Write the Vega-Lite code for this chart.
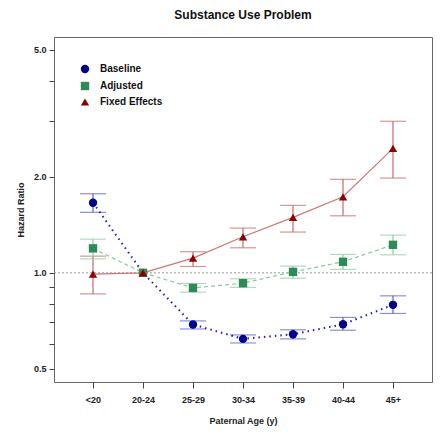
{
  "$schema": "https://vega.github.io/schema/vega-lite/v6.json",
  "width": 378,
  "height": 345,
  "autosize": {"type": "none"},
  "padding": {"left": 54, "top": 37, "right": 10, "bottom": 50},
  "background": "white",
  "title": {"text": "Substance Use Problem", "font": "Liberation Sans", "fontSize": 12, "fontWeight": "bold", "color": "#111", "anchor": "middle", "offset": 15},
  "config": {
    "view": {"stroke": "#666", "strokeWidth": 1},
    "axis": {"labelFont": "Liberation Sans", "labelFontWeight": "bold", "labelFontSize": 9, "labelColor": "#222", "titleFont": "Liberation Sans", "titleFontWeight": "bold", "titleFontSize": 9, "titleColor": "#222", "grid": false, "domain": false, "tickColor": "#444", "tickWidth": 1},
    "legend": {"labelFont": "Liberation Sans", "labelFontWeight": "bold", "labelFontSize": 10, "labelColor": "#111"}
  },
  "data": {"values": [
    {"age": "<20", "idx": 1, "series": "Baseline", "hr": 1.658, "lo": 1.547, "hi": 1.769},
    {"age": "20-24", "idx": 2, "series": "Baseline", "hr": 1.0, "lo": null, "hi": null},
    {"age": "25-29", "idx": 3, "series": "Baseline", "hr": 0.689, "lo": 0.667, "hi": 0.707},
    {"age": "30-34", "idx": 4, "series": "Baseline", "hr": 0.621, "lo": 0.603, "hi": 0.639},
    {"age": "35-39", "idx": 5, "series": "Baseline", "hr": 0.642, "lo": 0.621, "hi": 0.663},
    {"age": "40-44", "idx": 6, "series": "Baseline", "hr": 0.690, "lo": 0.661, "hi": 0.725},
    {"age": "45+", "idx": 7, "series": "Baseline", "hr": 0.794, "lo": 0.746, "hi": 0.847},
    {"age": "<20", "idx": 1, "series": "Adjusted", "hr": 1.193, "lo": 1.106, "hi": 1.275},
    {"age": "20-24", "idx": 2, "series": "Adjusted", "hr": 1.0, "lo": null, "hi": null},
    {"age": "25-29", "idx": 3, "series": "Adjusted", "hr": 0.897, "lo": 0.870, "hi": 0.926},
    {"age": "30-34", "idx": 4, "series": "Adjusted", "hr": 0.928, "lo": 0.900, "hi": 0.958},
    {"age": "35-39", "idx": 5, "series": "Adjusted", "hr": 1.007, "lo": 0.962, "hi": 1.050},
    {"age": "40-44", "idx": 6, "series": "Adjusted", "hr": 1.083, "lo": 1.025, "hi": 1.142},
    {"age": "45+", "idx": 7, "series": "Adjusted", "hr": 1.224, "lo": 1.139, "hi": 1.313},
    {"age": "<20", "idx": 1, "series": "Fixed Effects", "hr": 0.991, "lo": 0.859, "hi": 1.128},
    {"age": "20-24", "idx": 2, "series": "Fixed Effects", "hr": 1.0, "lo": null, "hi": null},
    {"age": "25-29", "idx": 3, "series": "Fixed Effects", "hr": 1.112, "lo": 1.047, "hi": 1.164},
    {"age": "30-34", "idx": 4, "series": "Fixed Effects", "hr": 1.297, "lo": 1.198, "hi": 1.381},
    {"age": "35-39", "idx": 5, "series": "Fixed Effects", "hr": 1.492, "lo": 1.342, "hi": 1.627},
    {"age": "40-44", "idx": 6, "series": "Fixed Effects", "hr": 1.731, "lo": 1.509, "hi": 1.963},
    {"age": "45+", "idx": 7, "series": "Fixed Effects", "hr": 2.455, "lo": 1.981, "hi": 2.984}
  ]},
  "encoding": {
    "x": {"field": "age", "type": "ordinal", "scale": {"type": "point", "domain": ["<20", "20-24", "25-29", "30-34", "35-39", "40-44", "45+"], "padding": 0.78},
      "axis": {"title": "Paternal Age (y)", "labelAngle": 0, "tickSize": 6, "labelPadding": 7, "titlePadding": 12}}
  },
  "layer": [
    {
      "mark": {"type": "rule", "color": "#999", "strokeDash": [2, 2], "strokeWidth": 1},
      "data": {"values": [{"ref": 1}]},
      "encoding": {"x": null, "y": {"field": "ref", "type": "quantitative",
          "scale": {"type": "log", "domain": [0.455, 5.48], "nice": false, "zero": false},
          "axis": {"title": "Hazard Ratio", "values": [0.5, 0.6, 0.7, 0.8, 0.9, 1, 2, 3, 4, 5], "labelExpr": "indexof([0.5, 1, 2, 5], datum.value) >= 0 ? format(datum.value, '.1f') : ''", "labelOverlap": false, "tickSize": 5, "labelPadding": 3, "titlePadding": 8}}}
    },
    {
      "transform": [{"filter": "datum.series === 'Fixed Effects'"}],
      "layer": [
        {"mark": {"type": "rule", "strokeWidth": 1.2, "color": "#c26a6a"},
         "encoding": {"y": {"field": "lo", "type": "quantitative"}, "y2": {"field": "hi"}}},
        {"mark": {"type": "tick", "thickness": 1.2, "size": 26, "orient": "horizontal", "color": "#c26a6a"},
         "encoding": {"y": {"field": "lo", "type": "quantitative"}}},
        {"mark": {"type": "tick", "thickness": 1.2, "size": 26, "orient": "horizontal", "color": "#c26a6a"},
         "encoding": {"y": {"field": "hi", "type": "quantitative"}}},
        {"mark": {"type": "line", "color": "#cc7676", "strokeWidth": 1.2},
         "encoding": {"y": {"field": "hr", "type": "quantitative"}, "order": {"field": "idx"}}}
      ]
    },
    {
      "transform": [{"filter": "datum.series === 'Adjusted'"}],
      "layer": [
        {"mark": {"type": "rule", "strokeWidth": 1.2, "color": "#8ccaa4"},
         "encoding": {"y": {"field": "lo", "type": "quantitative"}, "y2": {"field": "hi"}}},
        {"mark": {"type": "tick", "thickness": 1.2, "size": 26, "orient": "horizontal", "color": "#8ccaa4"},
         "encoding": {"y": {"field": "lo", "type": "quantitative"}}},
        {"mark": {"type": "tick", "thickness": 1.2, "size": 26, "orient": "horizontal", "color": "#8ccaa4"},
         "encoding": {"y": {"field": "hi", "type": "quantitative"}}},
        {"mark": {"type": "line", "color": "#86c8a0", "strokeWidth": 1.2, "strokeDash": [4, 3]},
         "encoding": {"y": {"field": "hr", "type": "quantitative"}, "order": {"field": "idx"}}}
      ]
    },
    {
      "transform": [{"filter": "datum.series === 'Baseline'"}],
      "layer": [
        {"mark": {"type": "rule", "strokeWidth": 1.2, "color": "#5c5cd0"},
         "encoding": {"y": {"field": "lo", "type": "quantitative"}, "y2": {"field": "hi"}}},
        {"mark": {"type": "tick", "thickness": 1.2, "size": 26, "orient": "horizontal", "color": "#5c5cd0"},
         "encoding": {"y": {"field": "lo", "type": "quantitative"}}},
        {"mark": {"type": "tick", "thickness": 1.2, "size": 26, "orient": "horizontal", "color": "#5c5cd0"},
         "encoding": {"y": {"field": "hi", "type": "quantitative"}}},
        {"mark": {"type": "line", "color": "#1f1fa8", "strokeWidth": 2, "strokeDash": [1.5, 4]},
         "encoding": {"y": {"field": "hr", "type": "quantitative"}, "order": {"field": "idx"}}}
      ]
    },
    {
      "mark": {"type": "point", "filled": true, "opacity": 1, "size": 70},
      "encoding": {
        "y": {"field": "hr", "type": "quantitative"},
        "color": {"field": "series", "type": "nominal", "scale": {"domain": ["Baseline", "Adjusted", "Fixed Effects"], "range": ["#00008B", "#2E8B57", "#8B0000"]},
          "legend": {"title": null, "orient": "none", "legendX": 26, "legendY": 27, "symbolSize": 70, "rowPadding": 1, "labelOffset": 10, "symbolOpacity": 1}},
        "shape": {"field": "series", "type": "nominal", "scale": {"domain": ["Baseline", "Adjusted", "Fixed Effects"], "range": ["circle", "square", "triangle-up"]},
          "legend": {"title": null, "orient": "none", "legendX": 26, "legendY": 27, "symbolSize": 70, "rowPadding": 1, "labelOffset": 10, "symbolOpacity": 1}}
      }
    }
  ],
  "resolve": {"scale": {"y": "shared"}}
}
